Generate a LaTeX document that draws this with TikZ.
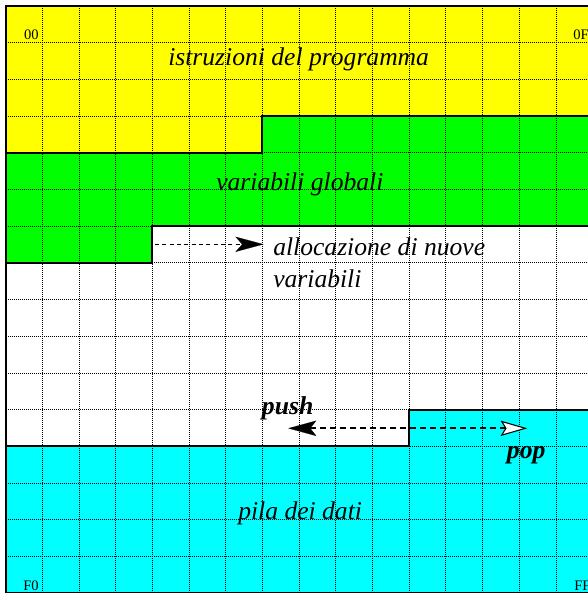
\documentclass[tikz,border=0pt]{standalone}
\usepackage{fontspec}
\setmainfont{Liberation Serif}
\usetikzlibrary{arrows.meta}
\definecolor{memyellow}{HTML}{FFFF00}
\definecolor{memgreen}{HTML}{00FF00}
\definecolor{memcyan}{HTML}{00FFFF}
\tikzset{
  gridline/.style={black, line width=0.6pt, dash pattern=on 0.75pt off 0.75pt},
  border/.style={black, line width=1.5pt, line join=miter},
  biglabel/.style={inner sep=0pt, font=\fontsize{19.2}{24}\selectfont\itshape},
  boldlabel/.style={inner sep=0pt, font=\fontsize{19.3}{24}\selectfont\bfseries\itshape},
  addr/.style={inner sep=0pt, font=\fontsize{10.9}{12}\selectfont},
}
\begin{document}
\begin{tikzpicture}[x=0.75pt, y=-0.75pt]
\useasboundingbox (0,0) rectangle (588,593);
\clip (0,0) rectangle (588,593);
\def\Xa{5.6}\def\Xd{152.4}\def\Xg{262.4}\def\Xk{409.2}\def\Xp{592.6}
\def\Ya{6}\def\Yc{116.1}\def\Yd{152.8}\def\Yf{226.1}\def\Yg{262.8}\def\Yk{409.6}\def\Yl{446.3}\def\Yp{593}
% fills
\fill[memyellow] (\Xa,\Ya) -- (\Xp,\Ya) -- (\Xp,\Yc) -- (\Xg,\Yc) -- (\Xg,\Yd) -- (\Xa,\Yd) -- cycle;
\fill[memgreen] (\Xa,\Yd) -- (\Xg,\Yd) -- (\Xg,\Yc) -- (\Xp,\Yc) -- (\Xp,\Yf) -- (\Xd,\Yf) -- (\Xd,\Yg) -- (\Xa,\Yg) -- cycle;
\fill[memcyan] (\Xa,\Yl) -- (\Xk,\Yl) -- (\Xk,\Yk) -- (\Xp,\Yk) -- (\Xp,\Yp) -- (\Xa,\Yp) -- cycle;
% grid
\foreach \i in {0,...,16} {
  \draw[gridline] ({\Xa+36.69*\i},\Ya) -- ({\Xa+36.69*\i},\Yp);
  \draw[gridline] (\Xa,{\Ya+36.69*\i}) -- (\Xp,{\Ya+36.69*\i});
}
% borders
\draw[border] (\Xa,\Ya) rectangle (\Xp,\Yp);
\draw[border] (\Xp,\Yc) -- (\Xg,\Yc) -- (\Xg,\Yd) -- (\Xa,\Yd);
\draw[border] (\Xp,\Yf) -- (\Xd,\Yf) -- (\Xd,\Yg) -- (\Xa,\Yg);
\draw[border] (\Xp,\Yk) -- (\Xk,\Yk) -- (\Xk,\Yl) -- (\Xa,\Yl);
% labels
\node[addr, anchor=base east] (a00) at (39,39) {00};
\node[addr, anchor=base west] (a0F) at (573,39) {0F};
\node[addr, anchor=base west] (aF0) at (23,590.5) {F0};
\node[addr, anchor=base west] (aFF) at (574,590.5) {FF};
\node[biglabel, anchor=base west] (istr) at (168,65) {istruzioni del programma};
\node[biglabel, anchor=base west] (glob) at (216,190) {variabili globali};
\node[biglabel, anchor=base west] (alloc1) at (273,255) {allocazione di nuove};
\node[biglabel, anchor=base west] (alloc2) at (273,287) {variabili};
\node[biglabel, anchor=base west] (pila) at (238,519) {pila dei dati};
\node[boldlabel, anchor=base west] (push) at (261.7,414) {push};
\node[boldlabel, anchor=base west] (pop) at (506.7,458) {pop};
% arrows
\coordinate (allocstart) at (155,244.3);
\coordinate (allocend) at (263.5,244.3);
\draw[black, line width=0.6pt, dash pattern=on 3pt off 2.5pt,
  -{Stealth[length=21pt, width=11.3pt, inset=5pt, line width=0.1pt]}] (allocstart) -- (allocend);
\coordinate (pushend) at (288.3,428.3);
\coordinate (popend) at (527.3,428.3);
\draw[black, line width=1.7pt, dash pattern=on 4pt off 3.5pt,
  {Stealth[length=21pt, width=11.5pt, inset=4.5pt, line width=0.1pt]}-{Stealth[length=20pt, width=11.5pt, inset=3.5pt, fill=white, line width=0.8pt]}] (pushend) -- (popend);
\end{tikzpicture}
\end{document}
